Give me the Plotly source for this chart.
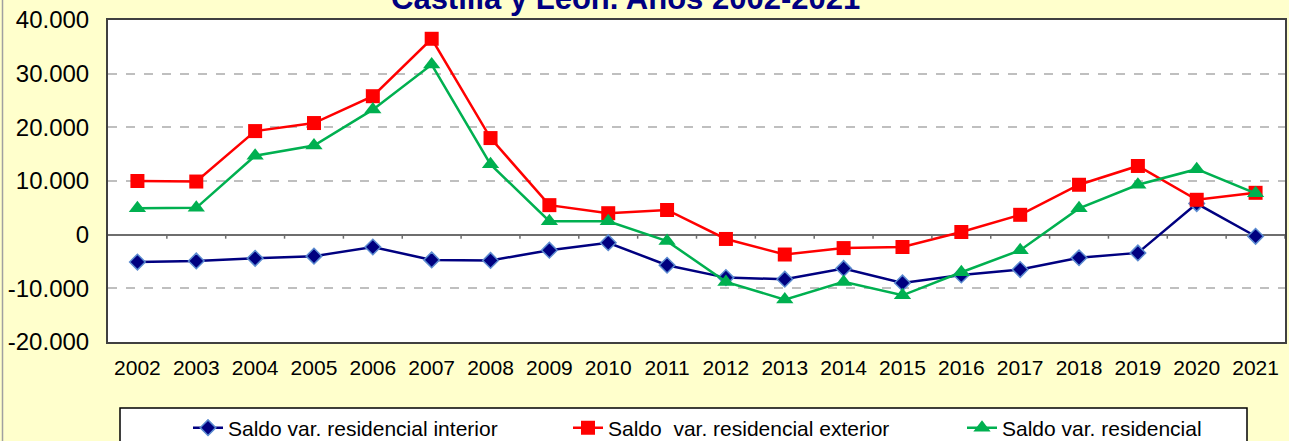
import plotly.graph_objects as go

years = [str(y) for y in range(2002, 2022)]

saldo_interior = [-5100, -4900, -4400, -4000, -2300, -4700, -4800, -2900, -1500, -5700,
                  -8000, -8300, -6300, -9000, -7500, -6500, -4300, -3400, 5800, -300]
saldo_exterior = [10000, 9900, 19300, 20800, 25800, 36500, 18000, 5500, 4000, 4600,
                  -800, -3700, -2500, -2300, 500, 3700, 9300, 12800, 6500, 7800]
saldo_total = [4900, 5000, 14700, 16600, 23300, 31700, 13100, 2500, 2500, -1200,
               -8800, -12100, -8800, -11300, -7000, -2900, 4900, 9300, 12200, 7700]

y_tick_vals = [-20000, -10000, 0, 10000, 20000, 30000, 40000]
y_tick_text = ["-20.000", "-10.000", "0", "10.000", "20.000", "30.000", "40.000"]

title_text = "<b>Castilla y León. Años 2002-2021</b>"
names = ["Saldo var. residencial interior",
         "Saldo  var. residencial exterior",
         "Saldo var. residencial"]

W, H = 1289, 441
ML, MR, MT, MB = 108, 4, 20, 99
PW, PH = W - ML - MR, H - MT - MB


def px_x(p):
    return (p - ML) / PW


def px_y(p):
    return (MT + PH - p) / PH


fig = go.Figure()
fig.add_trace(go.Scatter(
    x=years, y=saldo_interior, name=names[0], mode="lines+markers",
    line=dict(color="#000080", width=2.5),
    marker=dict(symbol="diamond", size=12, color="#000080",
                line=dict(color="#5B8BD0", width=1.5)),
    legend="legend"))
fig.add_trace(go.Scatter(
    x=years, y=saldo_exterior, name=names[1], mode="lines+markers",
    line=dict(color="#FF0000", width=2.5),
    marker=dict(symbol="square", size=14, color="#FF0000"),
    legend="legend2"))
fig.add_trace(go.Scatter(
    x=years, y=saldo_total, name=names[2], mode="lines+markers",
    line=dict(color="#00B050", width=2.5),
    marker=dict(symbol="triangle-up", size=15, color="#00B050"),
    legend="legend3"))

shapes = []
# tick marks on the zero line at category boundaries
for i in range(len(years)):
    shapes.append(dict(type="line", xref="x", yref="y", x0=i + 0.5, x1=i + 0.5,
                       y0=0, y1=-750, line=dict(color="#6E6E6E", width=1.5)))
# legend box
shapes.append(dict(type="rect", xref="paper", yref="paper",
                   x0=px_x(120), x1=px_x(1247), y0=px_y(408), y1=px_y(460),
                   fillcolor="white", line=dict(color="black", width=1.5),
                   layer="below"))
# outer chart border (left)
shapes.append(dict(type="line", xref="paper", yref="paper",
                   x0=px_x(2.5), x1=px_x(2.5), y0=px_y(-5), y1=px_y(446),
                   line=dict(color="#A0A0A0", width=1.5)))

leg_common = dict(orientation="h", bgcolor="rgba(0,0,0,0)", borderwidth=0,
                  font=dict(family="Arial, Liberation Sans", size=21, color="black"),
                  xanchor="left", yanchor="middle", y=px_y(428))

fig.update_layout(
    width=W, height=H,
    margin=dict(l=ML, r=MR, t=MT, b=MB, pad=0, autoexpand=False),
    paper_bgcolor="#FFFFCC",
    plot_bgcolor="white",
    showlegend=True,
    legend=dict(**leg_common, x=px_x(188)),
    legend2=dict(**leg_common, x=px_x(568)),
    legend3=dict(**leg_common, x=px_x(962)),
    shapes=shapes,
    annotations=[dict(text=title_text, xref="paper", yref="paper",
                      x=px_x(625), y=px_y(-1), xanchor="center", yanchor="middle",
                      showarrow=False,
                      font=dict(family="Arial, Liberation Sans", size=31, color="#000080"))],
    xaxis=dict(
        type="category", showgrid=False, zeroline=False,
        showline=True, mirror=True, linecolor="#404040", linewidth=2,
        ticks="outside", ticklen=6, tickcolor="rgba(0,0,0,0)",
        tickfont=dict(family="Arial, Liberation Sans", size=21, color="black"),
        range=[-0.5, len(years) - 0.5],
        automargin=False,
    ),
    yaxis=dict(
        range=[-20000, 40000],
        tickvals=y_tick_vals, ticktext=y_tick_text,
        showgrid=True, gridcolor="#BFBFBF", gridwidth=1.5, griddash="dash",
        zeroline=True, zerolinecolor="#6E6E6E", zerolinewidth=1.5,
        showline=True, mirror=True, linecolor="#404040", linewidth=2,
        ticks="outside", ticklen=12, tickcolor="rgba(0,0,0,0)",
        tickfont=dict(family="Arial, Liberation Sans", size=24, color="black"),
        automargin=False,
    ),
)

fig.write_html("out.html",
               config={"displayModeBar": False},
               post_script="document.body.style.margin='0';"
                           "document.body.style.overflow='hidden';")
